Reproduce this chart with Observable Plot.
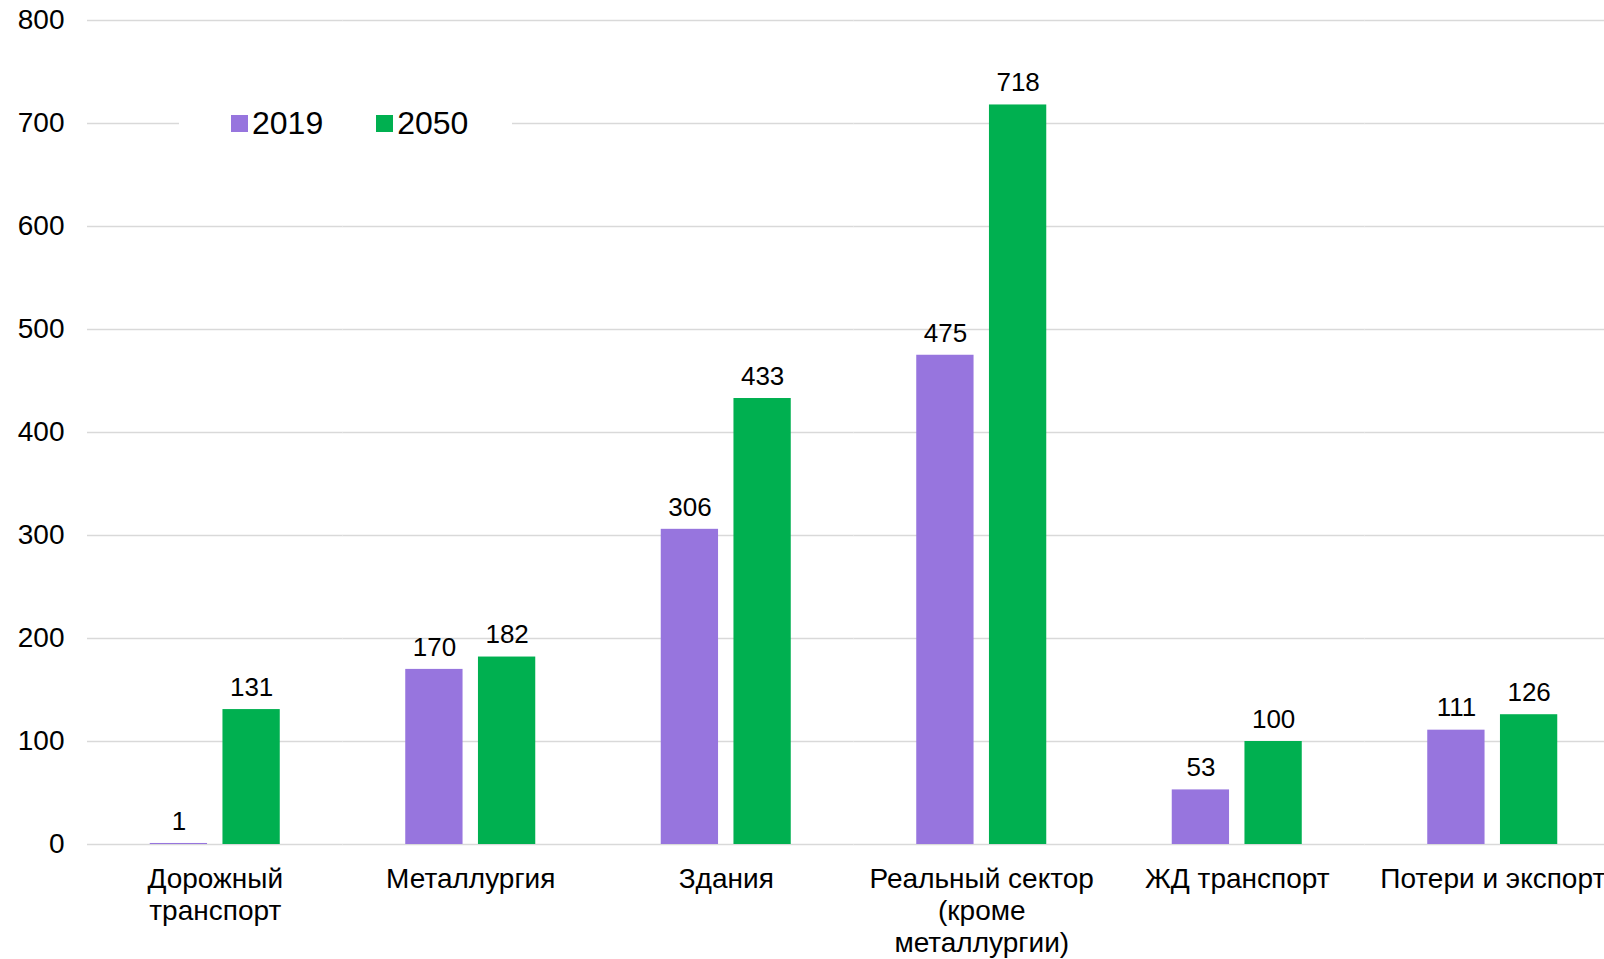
<!DOCTYPE html>
<html lang="ru">
<head>
<meta charset="utf-8">
<script src="https://cdn.jsdelivr.net/npm/d3@7"></script>
<script src="https://cdn.jsdelivr.net/npm/@observablehq/plot@0.6"></script>
<style>
  html, body { margin: 0; padding: 0; background: #fff; overflow: hidden; }
  #wrap { position: relative; width: 1604px; height: 959px; overflow: hidden; }
  #wrap svg { max-width: none !important; display: block; }
  .legend {
    position: absolute; left: 179px; top: 103px; height: 40px; width: 333px;
    background: #fff; display: flex; align-items: center;
    font-family: "Liberation Sans", Arial, sans-serif; font-size: 32px; color: #000;
    box-sizing: border-box; padding-left: 52px;
  }
  .legend .item { display: flex; align-items: center; }
  .legend .item + .item { margin-left: 53px; }
  .legend .sw { width: 17px; height: 17px; margin-right: 4px; }
</style>
</head>
<body>
<div id="wrap"></div>
<script>
// Sectors (axis labels, line breaks included)
const categories = [
  "Дорожный\nтранспорт",
  "Металлургия",
  "Здания",
  "Реальный сектор\n(кроме\nметаллургии)",
  "ЖД транспорт",
  "Потери и экспорт"
];
const years = ["2019", "2050"];
const values2019 = [1, 170, 306, 475, 53, 111];
const values2050 = [131, 182, 433, 718, 100, 126];
const yTicks = [0, 100, 200, 300, 400, 500, 600, 700, 800];
const colors = ["#9775de", "#00b050"];

const rows = [];
categories.forEach((c, i) => {
  rows.push({category: c, year: years[0], value: values2019[i]});
  rows.push({category: c, year: years[1], value: values2050[i]});
});

const font = "'Liberation Sans', Arial, sans-serif";

const chart = Plot.plot({
  width: 1620,
  height: 959,
  marginLeft: 87,
  marginRight: 0,
  marginTop: 20,
  marginBottom: 115,
  style: {fontFamily: font, fontSize: "28px", color: "#000", background: "#fff"},
  fx: {domain: categories, padding: 0, round: false, label: null},
  x: {domain: years, paddingInner: 0.212, paddingOuter: 0.863, round: false, axis: null},
  y: {domain: [0, 800], axis: null},
  color: {domain: years, range: colors},
  marks: [
    Plot.ruleY(yTicks, {stroke: "#d9d9d9", strokeWidth: 1.7}),
    Plot.barY(rows, {fx: "category", x: "year", y: "value", fill: "year"}),
    Plot.text(rows, {
      fx: "category", x: "year", y: "value",
      text: d => String(d.value), dy: -22, fontSize: 26, fill: "#000"
    }),
    Plot.axisY(yTicks, {
      anchor: "left", tickSize: 0, tickPadding: 23, fontSize: 28, label: null,
      tickFormat: d => String(d)
    }),
    Plot.axisFx({
      anchor: "bottom", tickSize: 0, tickPadding: 21, fontSize: 28,
      lineHeight: 1.14, label: null, tickFormat: d => d
    })
  ]
});

const wrap = document.getElementById("wrap");
wrap.appendChild(chart);

// Legend box sitting over the 700 gridline
const legend = document.createElement("div");
legend.className = "legend";
years.forEach((y, i) => {
  const item = document.createElement("div");
  item.className = "item";
  const sw = document.createElement("span");
  sw.className = "sw";
  sw.style.background = colors[i];
  const label = document.createElement("span");
  label.textContent = y;
  item.appendChild(sw);
  item.appendChild(label);
  legend.appendChild(item);
});
wrap.appendChild(legend);
</script>
</body>
</html>
